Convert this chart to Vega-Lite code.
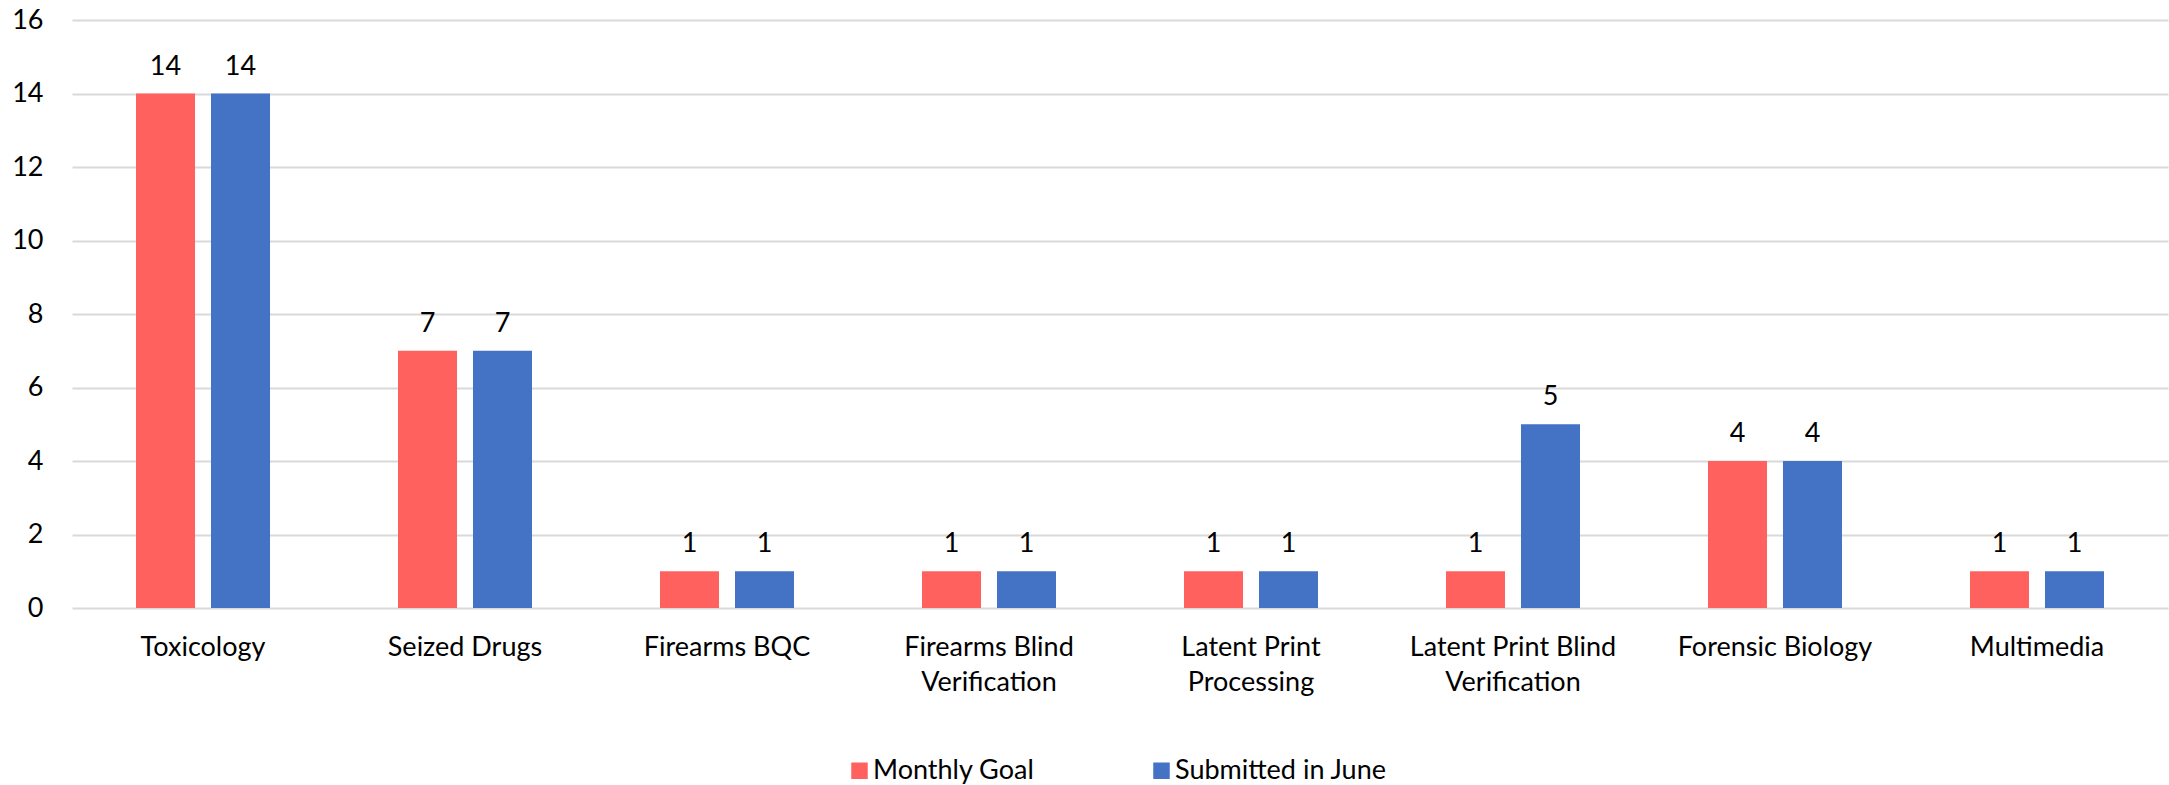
{
  "$schema": "https://vega.github.io/schema/vega-lite/v6.json",
  "width": 2096,
  "height": 588,
  "autosize": {"type": "none"},
  "padding": {"left": 72, "top": 20, "right": 1, "bottom": 177},
  "background": "white",
  "config": {
    "font": "Lato",
    "view": {"stroke": null},
    "axis": {"labelFont": "Lato", "labelFontSize": 27, "labelColor": "#000000", "labelLimit": 0},
    "legend": {"labelFont": "Lato", "labelFontSize": 27, "labelColor": "#000000", "labelLimit": 0}
  },
  "data": {
    "values": [
      {"category": "Toxicology", "series": "Monthly Goal", "value": 14},
      {"category": "Toxicology", "series": "Submitted in June", "value": 14},
      {"category": "Seized Drugs", "series": "Monthly Goal", "value": 7},
      {"category": "Seized Drugs", "series": "Submitted in June", "value": 7},
      {"category": "Firearms BQC", "series": "Monthly Goal", "value": 1},
      {"category": "Firearms BQC", "series": "Submitted in June", "value": 1},
      {"category": "Firearms Blind Verification", "series": "Monthly Goal", "value": 1},
      {"category": "Firearms Blind Verification", "series": "Submitted in June", "value": 1},
      {"category": "Latent Print Processing", "series": "Monthly Goal", "value": 1},
      {"category": "Latent Print Processing", "series": "Submitted in June", "value": 1},
      {"category": "Latent Print Blind Verification", "series": "Monthly Goal", "value": 1},
      {"category": "Latent Print Blind Verification", "series": "Submitted in June", "value": 5},
      {"category": "Forensic Biology", "series": "Monthly Goal", "value": 4},
      {"category": "Forensic Biology", "series": "Submitted in June", "value": 4},
      {"category": "Multimedia", "series": "Monthly Goal", "value": 1},
      {"category": "Multimedia", "series": "Submitted in June", "value": 1}
    ]
  },
  "encoding": {
    "x": {
      "field": "category",
      "type": "nominal",
      "sort": null,
      "scale": {"paddingInner": 0.4885, "paddingOuter": 0.2443},
      "axis": {
        "title": null,
        "domain": false,
        "ticks": false,
        "tickSize": 0,
        "labelAngle": 0,
        "labelPadding": 26,
        "labelLineHeight": 35,
        "labelBaseline": "top",
        "labelExpr": "length(datum.label) > 20 ? [slice(datum.label, 0, lastindexof(datum.label, ' ')), slice(datum.label, lastindexof(datum.label, ' ') + 1)] : datum.label"
      }
    },
    "xOffset": {
      "field": "series",
      "type": "nominal",
      "sort": ["Monthly Goal", "Submitted in June"],
      "scale": {"paddingInner": 0.2133, "paddingOuter": 0}
    },
    "y": {
      "field": "value",
      "type": "quantitative",
      "scale": {"domain": [0, 16], "nice": false},
      "axis": {
        "title": null,
        "domain": false,
        "ticks": false,
        "tickSize": 0,
        "labelPadding": 29,
        "values": [0, 2, 4, 6, 8, 10, 12, 14, 16],
        "grid": true,
        "gridColor": "#d9d9d9",
        "gridWidth": 2
      }
    }
  },
  "layer": [
    {
      "mark": {"type": "bar"},
      "encoding": {
        "color": {
          "field": "series",
          "type": "nominal",
          "sort": ["Monthly Goal", "Submitted in June"],
          "scale": {"domain": ["Monthly Goal", "Submitted in June"], "range": ["#FF625E", "#4472C4"]},
          "legend": {
            "title": null,
            "orient": "none",
            "direction": "horizontal",
            "legendX": 774,
            "legendY": 737,
            "symbolType": "square",
            "symbolSize": 272,
            "symbolStrokeWidth": 0,
            "labelOffset": 0,
            "columnPadding": 113,
            "padding": 0
          }
        }
      }
    },
    {
      "mark": {"type": "text", "baseline": "alphabetic", "dy": -19, "fontSize": 27, "color": "#000000", "font": "Lato"},
      "encoding": {
        "text": {"field": "value", "type": "quantitative"}
      }
    }
  ]
}
